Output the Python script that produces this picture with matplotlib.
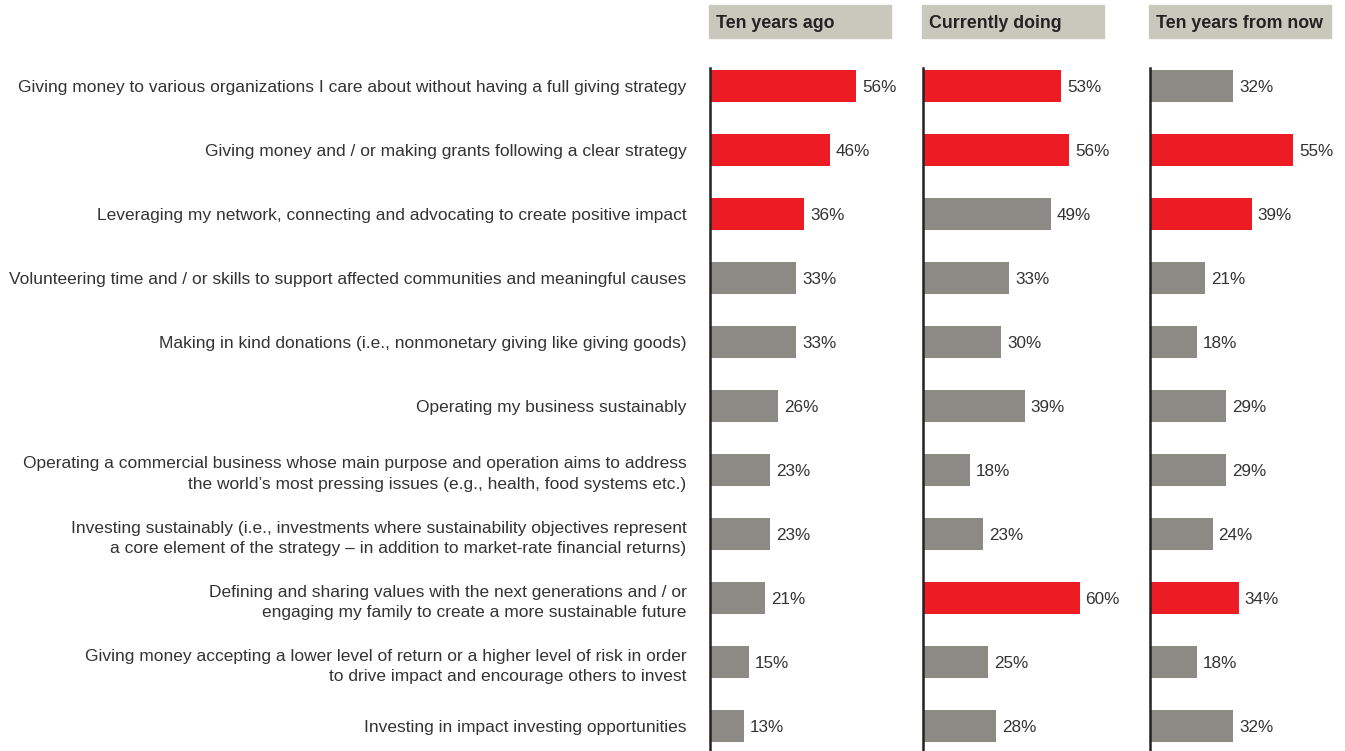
import matplotlib.pyplot as plt
from matplotlib.patches import Rectangle

categories = [
    "Giving money to various organizations I care about without having a full giving strategy",
    "Giving money and / or making grants following a clear strategy",
    "Leveraging my network, connecting and advocating to create positive impact",
    "Volunteering time and / or skills to support affected communities and meaningful causes",
    "Making in kind donations (i.e., nonmonetary giving like giving goods)",
    "Operating my business sustainably",
    "Operating a commercial business whose main purpose and operation aims to address\nthe world\u2019s most pressing issues (e.g., health, food systems etc.)",
    "Investing sustainably (i.e., investments where sustainability objectives represent\na core element of the strategy \u2013 in addition to market-rate financial returns)",
    "Defining and sharing values with the next generations and / or\nengaging my family to create a more sustainable future",
    "Giving money accepting a lower level of return or a higher level of risk in order\nto drive impact and encourage others to invest",
    "Investing in impact investing opportunities",
]
periods = ["Ten years ago", "Currently doing", "Ten years from now"]
ten_years_ago = [56, 46, 36, 33, 33, 26, 23, 23, 21, 15, 13]
currently_doing = [53, 56, 49, 33, 30, 39, 18, 23, 60, 25, 28]
ten_years_from_now = [32, 55, 39, 21, 18, 29, 29, 24, 34, 18, 32]
series = [ten_years_ago, currently_doing, ten_years_from_now]

RED = "#ED1C24"
GREY = "#8C8A85"
HEAD = "#C8C8BC"
TXT = "#333333"

plt.rcParams["font.family"] = ["Liberation Sans", "DejaVu Sans"]

W, H = 1345, 751
fig = plt.figure(figsize=(W / 100, H / 100), dpi=100)

lefts = [710, 923, 1150]
ax_w = 180
top_px, bot_px = 68, 751
n = len(categories)
ys = list(range(n))

for k, (left, vals) in enumerate(zip(lefts, series)):
    ax = fig.add_axes([left / W, (H - bot_px) / H, ax_w / W, (bot_px - top_px) / H])
    top3 = sorted(range(n), key=lambda i: vals[i], reverse=True)[:3]
    colors = [RED if i in top3 else GREY for i in range(n)]
    ax.barh(ys, vals, height=0.5, color=colors)
    for y, v in zip(ys, vals):
        ax.text(v + 2.3, y, f"{v}%", va="center_baseline", ha="left", fontsize=12.3, color=TXT)
    ax.set_xlim(0, 69)
    ax.set_ylim(10.39, -0.28)
    for s in ["top", "right", "bottom"]:
        ax.spines[s].set_visible(False)
    ax.spines["left"].set_linewidth(1.8)
    ax.spines["left"].set_color("#222222")
    ax.set_xticks([])
    if k == 0:
        ax.set_yticks(ys)
        ax.set_yticklabels(categories, fontsize=12.5, color=TXT, linespacing=1.45)
        ax.tick_params(axis="y", length=0, pad=17)
    else:
        ax.set_yticks([])

    # header box above each panel
    fig.add_artist(Rectangle((left / W - 1 / W, (H - 38) / H), (ax_w + 2) / W, 33 / H,
                             color=HEAD, transform=fig.transFigure, zorder=0))
    fig.text((left + 6) / W, (H - 22) / H, periods[k], fontsize=12.8, fontweight="bold",
             color="#222222", va="center_baseline", ha="left")

fig.savefig("out.png", dpi=100)
